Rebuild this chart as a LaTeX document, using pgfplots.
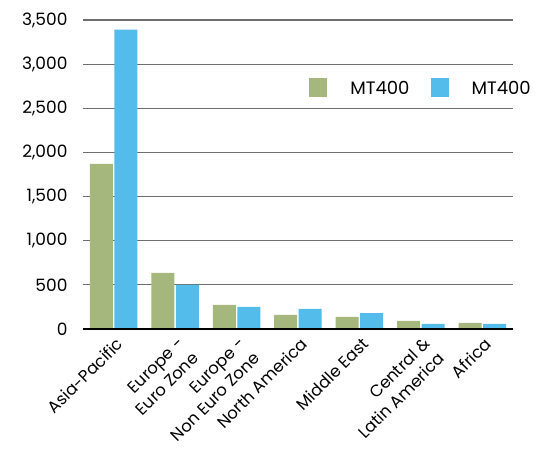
\documentclass[border=0pt]{standalone}
\usepackage{pgfplots}
\pgfplotsset{compat=1.18}
\usepackage{fontspec}
\setmainfont{Poppins}
\definecolor{bgreen}{RGB}{166,183,125}
\definecolor{bblue}{RGB}{84,188,234}
\definecolor{gridg}{RGB}{110,110,110}
\begin{document}
\begin{tikzpicture}
\path[use as bounding box] (-83pt,-133pt) rectangle (465pt,329pt);
\begin{axis}[
  at={(0pt,0pt)}, anchor=south west,
  scale only axis,
  width=430pt, height=309pt,
  xmin=-0.5, xmax=6.5,
  ymin=0, ymax=3500,
  ytick={0,500,...,3500},
  xtick=data,
  xticklabels={Asia-Pacific,{Europe -\\Euro Zone},{Europe -\\Non Euro Zone},North America,Middle East,{Central \&\\Latin America},Africa},
  x tick label style={rotate=45, anchor=north east, align=right, font=\fontsize{16.5}{21}\selectfont, inner sep=1pt, xshift=-3pt, yshift=-5pt},
  y tick label style={font=\fontsize{17}{18}\selectfont},
  /pgf/number format/assume math mode=true,
  /pgf/number format/1000 sep={,},
  ymajorgrids,
  grid style={gridg, line width=1.2pt},
  axis line style={draw=none},
  major tick length=0pt,
  yticklabel style={xshift=-12pt},
  ybar, bar width=23pt,
  legend style={draw=none, at={(0.5446,0.78)}, anchor=west, font=\fontsize{18}{20}\selectfont, column sep=28pt, fill=none, inner sep=0pt, nodes={inner sep=1pt}},
  legend columns=2,
  legend image code/.code={%
    \begin{pgfinterruptboundingbox}\fill[#1] (-8pt,-9pt) rectangle (10pt,10pt);\end{pgfinterruptboundingbox}%
    \path (0pt,-9pt) rectangle (10pt,10pt);},
  clip=false,
]
\addplot[fill=bgreen, draw=none, bar shift=-12.25pt] coordinates {(0,1870) (1,635) (2,272) (3,159) (4,136) (5,91) (6,68)};
\addplot[fill=bblue, draw=none, bar shift=12.25pt] coordinates {(0,3390) (1,500) (2,250) (3,227) (4,181) (5,57) (6,57)};
\legend{\hspace*{-6pt}MT400,\hspace*{-6pt}MT400}
\draw[black, line width=1.2pt] (axis cs:-0.5,0) -- (axis cs:6.5,0);
\end{axis}
\end{tikzpicture}
\end{document}
